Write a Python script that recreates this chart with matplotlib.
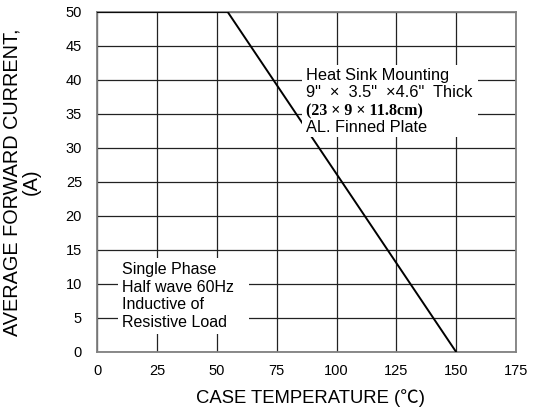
import matplotlib.pyplot as plt
from matplotlib.patches import Rectangle

# derating curve (case temperature in C, current in A)
temp = [0, 54.5, 150]
current = [50, 50, 0]

x_ticks = [0, 25, 50, 75, 100, 125, 150, 175]
y_ticks = [0, 5, 10, 15, 20, 25, 30, 35, 40, 45, 50]

heat_lines = ['Heat Sink Mounting', '9"  ×  3.5"  ×4.6"  Thick', '(23 × 9 × 11.8cm)', 'AL. Finned Plate']
load_note = 'Single Phase\nHalf wave 60Hz\nInductive of\nResistive Load    '

plt.rcParams['font.family'] = ['Liberation Sans', 'Noto Sans CJK SC', 'DejaVu Sans']

fig = plt.figure(figsize=(5.34, 4.11), dpi=100)
ax = fig.add_axes([0.1822, 0.1436, 0.784, 0.8274])

ax.set_xlim(0, 175)
ax.set_ylim(0, 50)
ax.set_xticks(x_ticks)
ax.set_yticks(y_ticks)
ax.grid(True, color='#222222', linewidth=0.9)
ax.tick_params(length=0, labelsize=10.5)
ax.tick_params(axis='y', pad=11)
ax.tick_params(axis='x', pad=9)
for s in ax.spines.values():
    s.set_color('#808080')
    s.set_linewidth(1.3)

ax.plot(temp, current, color='black', linewidth=1.4, zorder=3)

ax.set_xlabel('CASE TEMPERATURE (℃)', fontsize=13.3)
ax.xaxis.set_label_coords(0.51, -0.11)
ax.set_ylabel('AVERAGE FORWARD CURRENT,\n(A)', fontsize=14.3, linespacing=1.0)
ax.yaxis.set_label_coords(-0.135, 0.5)

# heat sink note: white panel, then one text per line
ax.add_patch(Rectangle((0.489, 0.632), 0.42, 0.212, transform=ax.transAxes,
                       facecolor='white', edgecolor='none', zorder=4))
line_y = [0.8, 0.749, 0.697, 0.647]
for i, (txt, yy) in enumerate(zip(heat_lines, line_y)):
    if i == 2:
        ax.text(0.4985, yy, txt, transform=ax.transAxes, fontsize=11.5,
                va='baseline', ha='left', fontweight='bold',
                family=['Liberation Serif', 'DejaVu Serif'], zorder=5)
    else:
        ax.text(0.4985, yy, txt, transform=ax.transAxes, fontsize=11.8,
                va='baseline', ha='left', zorder=5)

# circuit note
ax.text(0.059, 0.265, load_note,
        transform=ax.transAxes, fontsize=11.5, va='top', ha='left', linespacing=1.22,
        bbox=dict(facecolor='white', edgecolor='none', pad=3), zorder=4)

fig.savefig('out.png', dpi=100)
